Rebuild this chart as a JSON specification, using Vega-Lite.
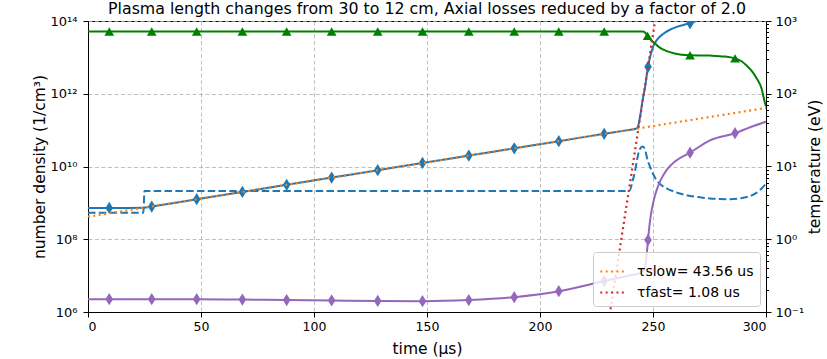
{
  "$schema": "https://vega.github.io/schema/vega-lite/v6.json",
  "width": 678,
  "height": 291,
  "autosize": {"type": "none"},
  "padding": {"left": 88, "top": 21, "right": 61, "bottom": 47},
  "title": {"text": "Plasma length changes from 30 to 12 cm, Axial losses reduced by a factor of 2.0", "font": "DejaVu Sans", "fontSize": 15.8, "fontWeight": "normal", "color": "#000", "offset": -3},
  "config": {
    "font": "DejaVu Sans",
    "view": {"stroke": "#000", "strokeWidth": 1},
    "axis": {"labelFont": "DejaVu Sans", "labelFontSize": 12.5, "labelColor": "#000", "titleFont": "DejaVu Sans", "titleFontSize": 15.5, "titleFontWeight": "normal", "titleColor": "#000", "domainColor": "#000", "tickColor": "#000", "gridColor": "#b0b0b0", "gridDash": [4, 2.5], "gridWidth": 0.8, "tickSize": 5, "labelPadding": 3},
    "legend": {"fillColor": "rgba(255,255,255,0.8)", "strokeColor": "#cccccc", "cornerRadius": 3, "padding": 6, "symbolType": "stroke", "symbolDash": [2, 3.4], "symbolStrokeWidth": 2.2, "symbolSize": 600, "labelFont": "DejaVu Sans", "labelFontSize": 14, "labelColor": "#000", "rowPadding": 0, "labelOffset": 11}
  },
  "datasets": {
    "blue": [
      {"t": 0, "n": 7.24e8}, {"t": 9.4, "n": 7.24e8}, {"t": 24.5, "n": 7.3e8}, {"t": 28.2, "n": 7.94e8}, {"t": 48.1, "n": 1.26e9}, {"t": 68.3, "n": 2.0e9}, {"t": 87.9, "n": 3.13e9}, {"t": 107.8, "n": 4.95e9}, {"t": 128.2, "n": 7.9e9}, {"t": 148, "n": 1.25e10}, {"t": 168.5, "n": 2.0e10}, {"t": 188.6, "n": 3.17e10}, {"t": 208.3, "n": 4.98e10}, {"t": 228.4, "n": 7.9e10}, {"t": 238, "n": 9.84e10}, {"t": 242, "n": 1.07e11}, {"t": 243, "n": 1.15e11}, {"t": 243.5, "n": 1.35e11}, {"t": 244.5, "n": 2.88e11}, {"t": 245.4, "n": 6.6e11}, {"t": 246.5, "n": 1.55e12}, {"t": 247.8, "n": 5.5e12}, {"t": 249, "n": 1.2e13}, {"t": 250.1, "n": 2.0e13}, {"t": 252, "n": 3.16e13}, {"t": 254.6, "n": 4.47e13}, {"t": 257.5, "n": 5.75e13}, {"t": 260.5, "n": 6.9e13}, {"t": 265.7, "n": 8.5e13}, {"t": 270, "n": 1.05e14}, {"t": 280, "n": 1.58e14}
    ],
    "blueM": [
      {"t": 9.4, "n": 7.24e8}, {"t": 28.2, "n": 7.94e8}, {"t": 48.1, "n": 1.26e9}, {"t": 68.3, "n": 2.0e9}, {"t": 87.9, "n": 3.13e9}, {"t": 107.8, "n": 4.95e9}, {"t": 128.2, "n": 7.9e9}, {"t": 148, "n": 1.25e10}, {"t": 168.5, "n": 2.0e10}, {"t": 188.6, "n": 3.17e10}, {"t": 208.3, "n": 4.98e10}, {"t": 228.4, "n": 7.9e10}, {"t": 247.8, "n": 5.5e12}, {"t": 266.4, "n": 8.7e13}
    ],
    "green": [
      {"t": 0, "n": 5.13e13}, {"t": 245.5, "n": 5.13e13}, {"t": 246.5, "n": 4.79e13}, {"t": 247.6, "n": 3.98e13}, {"t": 249, "n": 3.02e13}, {"t": 250.9, "n": 2.4e13}, {"t": 253, "n": 1.86e13}, {"t": 256.1, "n": 1.48e13}, {"t": 260, "n": 1.26e13}, {"t": 265.9, "n": 1.15e13}, {"t": 275.2, "n": 1.12e13}, {"t": 282, "n": 1.05e13}, {"t": 285.8, "n": 9.55e12}, {"t": 289, "n": 7.94e12}, {"t": 291.4, "n": 6.0e12}, {"t": 294, "n": 4.0e12}, {"t": 295.9, "n": 2.63e12}, {"t": 298, "n": 1.41e12}, {"t": 299.6, "n": 5.4e11}, {"t": 300, "n": 4.5e11}
    ],
    "greenM": [
      {"t": 9.4, "n": 5.13e13}, {"t": 28.2, "n": 5.13e13}, {"t": 48.1, "n": 5.13e13}, {"t": 68.3, "n": 5.13e13}, {"t": 87.9, "n": 5.13e13}, {"t": 107.8, "n": 5.13e13}, {"t": 128.2, "n": 5.13e13}, {"t": 148, "n": 5.13e13}, {"t": 168.5, "n": 5.13e13}, {"t": 188.6, "n": 5.13e13}, {"t": 208.3, "n": 5.13e13}, {"t": 228.4, "n": 5.13e13}, {"t": 247.6, "n": 3.9e13}, {"t": 266.4, "n": 1.15e13}, {"t": 286.3, "n": 9.4e12}
    ],
    "purple": [
      {"t": 0, "T": 0.150}, {"t": 9.4, "T": 0.150}, {"t": 28.2, "T": 0.150}, {"t": 48.1, "T": 0.150}, {"t": 68.3, "T": 0.148}, {"t": 87.9, "T": 0.146}, {"t": 107.8, "T": 0.144}, {"t": 128.2, "T": 0.142}, {"t": 148, "T": 0.141}, {"t": 168.5, "T": 0.146}, {"t": 188.6, "T": 0.160}, {"t": 208.3, "T": 0.193}, {"t": 228.4, "T": 0.266}, {"t": 236, "T": 0.30}, {"t": 240, "T": 0.32}, {"t": 244, "T": 0.34}, {"t": 246, "T": 0.38}, {"t": 247, "T": 0.55}, {"t": 247.8, "T": 0.977}, {"t": 248.5, "T": 1.6}, {"t": 249.4, "T": 2.51}, {"t": 250.5, "T": 3.6}, {"t": 251.6, "T": 4.73}, {"t": 253.5, "T": 6.6}, {"t": 256, "T": 8.91}, {"t": 260, "T": 11.9}, {"t": 266.4, "T": 15.5}, {"t": 275.2, "T": 22.9}, {"t": 286.3, "T": 28.7}, {"t": 293, "T": 34.7}, {"t": 300, "T": 41.2}
    ],
    "purpleM": [
      {"t": 9.4, "T": 0.150}, {"t": 28.2, "T": 0.150}, {"t": 48.1, "T": 0.150}, {"t": 68.3, "T": 0.148}, {"t": 87.9, "T": 0.146}, {"t": 107.8, "T": 0.144}, {"t": 128.2, "T": 0.142}, {"t": 148, "T": 0.141}, {"t": 168.5, "T": 0.146}, {"t": 188.6, "T": 0.160}, {"t": 208.3, "T": 0.193}, {"t": 228.4, "T": 0.266}, {"t": 247.8, "T": 0.977}, {"t": 266.4, "T": 15.5}, {"t": 286.3, "T": 28.7}
    ],
    "dashed": [
      {"t": 0, "T": 2.32}, {"t": 24.5, "T": 2.32}, {"t": 25, "T": 4.62}, {"t": 239.5, "T": 4.62}, {"t": 241, "T": 6.3}, {"t": 242, "T": 8.5}, {"t": 243, "T": 12.6}, {"t": 244, "T": 17.0}, {"t": 245.5, "T": 18.8}, {"t": 246.5, "T": 17.0}, {"t": 247.5, "T": 12.6}, {"t": 248.7, "T": 9.9}, {"t": 250, "T": 7.94}, {"t": 251.6, "T": 6.46}, {"t": 253.5, "T": 5.6}, {"t": 256, "T": 5.01}, {"t": 260, "T": 4.45}, {"t": 264.9, "T": 4.03}, {"t": 270, "T": 3.8}, {"t": 275.2, "T": 3.63}, {"t": 284, "T": 3.55}, {"t": 291.4, "T": 3.8}, {"t": 295, "T": 4.2}, {"t": 297.3, "T": 4.73}, {"t": 300, "T": 5.82}
    ],
    "fits": [
      {"t": 0, "n": 4.17e8, "fit": "τslow= 43.56 us"}, {"t": 300, "n": 4.07e11, "fit": "τslow= 43.56 us"},
      {"t": 229, "n": 1.57e5, "fit": "τfast= 1.08 us"}, {"t": 253, "n": 6.9e14, "fit": "τfast= 1.08 us"}
    ]
  },
  "layer": [
    {
      "layer": [
        {"data": {"name": "blue"}, "mark": {"type": "line", "color": "#1f77b4", "strokeWidth": 2, "interpolate": "monotone", "clip": true},
         "encoding": {"x": {"field": "t", "type": "quantitative"}, "y": {"field": "n", "type": "quantitative"}}},
        {"data": {"name": "blueM"}, "mark": {"type": "point", "shape": "M0,-1L0.62,0L0,1L-0.62,0Z", "size": 150, "filled": true, "color": "#1f77b4", "opacity": 1, "clip": true},
         "encoding": {"x": {"field": "t", "type": "quantitative"}, "y": {"field": "n", "type": "quantitative"}}},
        {"data": {"name": "green"}, "mark": {"type": "line", "color": "#008000", "strokeWidth": 2, "interpolate": "monotone", "clip": true},
         "encoding": {"x": {"field": "t", "type": "quantitative"}, "y": {"field": "n", "type": "quantitative"}}},
        {"data": {"name": "greenM"}, "mark": {"type": "point", "shape": "triangle-up", "size": 95, "filled": true, "color": "#008000", "opacity": 1, "clip": true},
         "encoding": {"x": {"field": "t", "type": "quantitative"}, "y": {"field": "n", "type": "quantitative"}}},
        {"data": {"values": [{}]}, "mark": {"type": "rule", "color": "#000", "strokeDash": [1.5, 2.2], "strokeWidth": 1.6},
         "encoding": {"x": {"datum": 24.5, "type": "quantitative"}}}
      ],
      "encoding": {
        "x": {"field": "t", "type": "quantitative", "scale": {"domain": [0, 300], "nice": false}, "axis": {"values": [0, 50, 100, 150, 200, 250, 300], "title": "time (μs)", "grid": true, "titlePadding": 9}},
        "y": {"field": "n", "type": "quantitative", "scale": {"type": "log", "domain": [1e6, 1e14], "nice": false}, "axis": {"values": [1e6, 1e8, 1e10, 1e12, 1e14], "labelExpr": "datum.value < 1e7 ? '10⁶' : datum.value < 1e9 ? '10⁸' : datum.value < 1e11 ? '10¹⁰' : datum.value < 1e13 ? '10¹²' : '10¹⁴'", "title": "number density (1/cm³)", "grid": true, "labelOverlap": false, "labelPadding": 6, "labelFontSize": 13, "titlePadding": 3}}
      }
    },
    {
      "layer": [
        {"data": {"name": "dashed"}, "mark": {"type": "line", "color": "#1f77b4", "strokeWidth": 2, "strokeDash": [7.5, 3.3], "interpolate": "monotone", "clip": true},
         "encoding": {"x": {"field": "t", "type": "quantitative"}, "y": {"field": "T", "type": "quantitative"}}},
        {"data": {"name": "purple"}, "mark": {"type": "line", "color": "#9467bd", "strokeWidth": 2, "interpolate": "monotone", "clip": true},
         "encoding": {"x": {"field": "t", "type": "quantitative"}, "y": {"field": "T", "type": "quantitative"}}},
        {"data": {"name": "purpleM"}, "mark": {"type": "point", "shape": "M0,-1L0.62,0L0,1L-0.62,0Z", "size": 150, "filled": true, "color": "#9467bd", "opacity": 1, "clip": true},
         "encoding": {"x": {"field": "t", "type": "quantitative"}, "y": {"field": "T", "type": "quantitative"}}}
      ],
      "encoding": {
        "x": {"field": "t", "type": "quantitative", "scale": {"domain": [0, 300], "nice": false}, "axis": {"values": [0, 50, 100, 150, 200, 250, 300], "title": "time (μs)", "grid": true, "titlePadding": 9}},
        "y": {"field": "T", "type": "quantitative", "scale": {"type": "log", "domain": [0.1, 1000], "nice": false},
              "axis": {"orient": "right", "title": "temperature (eV)", "titleAngle": 270, "grid": false, "labelOverlap": false, "labelPadding": 4, "labelFontSize": 13,
                       "values": [0.1, 0.2, 0.3, 0.4, 0.5, 0.6, 0.7, 0.8, 0.9, 1, 2, 3, 4, 5, 6, 7, 8, 9, 10, 20, 30, 40, 50, 60, 70, 80, 90, 100, 200, 300, 400, 500, 600, 700, 800, 900, 1000],
                       "labelExpr": "datum.value == 0.1 ? '10⁻¹' : datum.value == 1 ? '10⁰' : datum.value == 10 ? '10¹' : datum.value == 100 ? '10²' : datum.value == 1000 ? '10³' : ''",
                       "tickSize": {"condition": {"test": "abs(log(datum.value)/LN10 - round(log(datum.value)/LN10)) < 0.000001", "value": 5}, "value": 2.5},
                       "titlePadding": 19}}
      }
    },
    {
      "data": {"name": "fits"},
      "mark": {"type": "line", "strokeWidth": 2.2, "strokeDash": [2, 3.4], "clip": true},
      "encoding": {
        "x": {"field": "t", "type": "quantitative", "scale": {"domain": [0, 300], "nice": false}, "axis": {"values": [0, 50, 100, 150, 200, 250, 300], "title": "time (μs)", "grid": true, "titlePadding": 9}},
        "y": {"field": "n", "type": "quantitative", "scale": {"type": "log", "domain": [1e6, 1e14], "nice": false}, "axis": null},
        "color": {"field": "fit", "type": "nominal", "scale": {"domain": ["τslow= 43.56 us", "τfast= 1.08 us"], "range": ["#ff7f0e", "#d62728"]}, "legend": {"title": null, "orient": "bottom-right", "offset": 6}}
      }
    }
  ],
  "resolve": {"scale": {"y": "independent"}}
}
